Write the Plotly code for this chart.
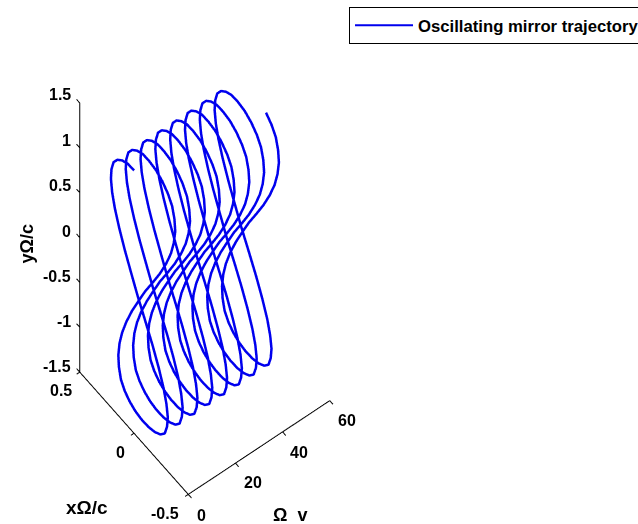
import plotly.graph_objects as go

series_name = "Oscillating mirror trajectory"

omega_t = [
 0,.13,.26,.39,.52,.65,.79,.92,1.05,1.18,1.31,1.44,1.57,1.70,1.83,1.96,2.09,2.23,2.36,2.49,2.62,2.75,2.88,3.01,3.14,3.27,3.40,3.53,3.67,3.80,3.93,4.06,4.19,4.32,4.45,4.58,4.71,4.84,4.97,5.11,5.24,5.37,5.50,5.63,5.76,5.89,6.02,6.15,
 6.28,6.41,6.54,6.68,6.81,6.94,7.07,7.20,7.33,7.46,7.59,7.72,7.85,7.98,8.12,8.25,8.38,8.51,8.64,8.77,8.90,9.03,9.16,9.29,9.42,9.55,9.69,9.82,9.95,10.08,10.21,10.34,10.47,10.60,10.73,10.86,11.00,11.13,11.26,11.39,11.52,11.65,11.78,11.91,12.04,12.17,12.30,12.44,
 12.57,12.70,12.83,12.96,13.09,13.22,13.35,13.48,13.61,13.74,13.87,14.01,14.14,14.27,14.40,14.53,14.66,14.79,14.92,15.05,15.18,15.32,15.45,15.58,15.71,15.84,15.97,16.10,16.23,16.36,16.49,16.62,16.76,16.89,17.02,17.15,17.28,17.41,17.54,17.67,17.80,17.93,18.06,18.20,18.33,18.46,18.59,18.72,
 18.85,18.98,19.11,19.24,19.37,19.50,19.63,19.77,19.90,20.03,20.16,20.29,20.42,20.55,20.68,20.81,20.94,21.08,21.21,21.34,21.47,21.60,21.73,21.86,21.99,22.12,22.25,22.38,22.51,22.65,22.78,22.91,23.04,23.17,23.30,23.43,23.56,23.69,23.82,23.96,24.09,24.22,24.35,24.48,24.61,24.74,24.87,25.00,
 25.13,25.26,25.39,25.53,25.66,25.79,25.92,26.05,26.18,26.31,26.44,26.57,26.70,26.84,26.97,27.10,27.23,27.36,27.49,27.62,27.75,27.88,28.01,28.14,28.27,28.41,28.54,28.67,28.80,28.93,29.06,29.19,29.32,29.45,29.58,29.72,29.85,29.98,30.11,30.24,30.37,30.50,30.63,30.76,30.89,31.02,31.15,31.29,
 31.42,31.55,31.68,31.81,31.94,32.07,32.20,32.33,32.46,32.60,32.72,32.86,32.99,33.12,33.25,33.38,33.51,33.64,33.77,33.90,34.03,34.17,34.30,34.43,34.56,34.69,34.82,34.95,35.08,35.21,35.34,35.48,35.60,35.74,35.87,36.00,36.13,36.26,36.39,36.52,36.65,36.78,36.91,37.05,37.18,37.31,37.44,37.57,
 37.70,37.83,37.96,38.09,38.22,38.35,38.48,38.62,38.75,38.88,39.01,39.14,39.27,39.40,39.53,39.66,39.79,39.93,40.06,40.19,40.32,40.45,40.58,40.71,40.84,40.97,41.10,41.23,41.36,41.50,41.63,41.76,41.89,42.02,42.15,42.28,42.41,42.54,42.67,42.81,42.94,43.07,43.20,43.33,43.46,43.59,43.72,43.85,
 43.98,44.11,44.24,44.37,44.51,44.64,44.77,44.90,45.03,45.16,45.29,45.42,45.55,45.68,45.81,45.94,46.08,46.21,46.34,46.47,46.60,46.73,46.86,46.99,47.12,47.25,47.39,47.52,47.65,47.78,47.91,48.04,48.17,48.30,48.43,48.56,48.69,48.83,48.96,49.09,49.22,49.35,49.48,49.61,49.74,49.87,50.00,
]

x_omega_c = [
 0,.06,.115,.163,.2,.222,.23,.222,.2,.163,.115,.06,0,-.068,-.13,-.184,-.226,-.25,-.26,-.25,-.226,-.184,-.13,-.068,0,.06,.115,.163,.2,.222,.23,.222,.2,.163,.115,.06,0,-.068,-.13,-.184,-.226,-.25,-.26,-.25,-.226,-.184,-.13,-.068,
 0,.06,.115,.163,.2,.222,.23,.222,.2,.163,.115,.06,0,-.068,-.13,-.184,-.226,-.25,-.26,-.25,-.226,-.184,-.13,-.068,0,.06,.115,.163,.2,.222,.23,.222,.2,.163,.115,.06,0,-.068,-.13,-.184,-.226,-.25,-.26,-.25,-.226,-.184,-.13,-.068,
 0,.06,.115,.163,.2,.222,.23,.222,.2,.163,.115,.06,0,-.068,-.13,-.184,-.226,-.25,-.26,-.25,-.226,-.184,-.13,-.068,0,.06,.115,.163,.2,.222,.23,.222,.2,.163,.115,.06,0,-.068,-.13,-.184,-.226,-.25,-.26,-.25,-.226,-.184,-.13,-.068,
 0,.06,.115,.163,.2,.222,.23,.222,.2,.163,.115,.06,0,-.068,-.13,-.184,-.226,-.25,-.26,-.25,-.226,-.184,-.13,-.068,0,.06,.115,.163,.2,.222,.23,.222,.2,.163,.115,.06,0,-.068,-.13,-.184,-.226,-.25,-.26,-.25,-.226,-.184,-.13,-.068,
 0,.06,.115,.163,.2,.222,.23,.222,.2,.163,.115,.06,0,-.068,-.13,-.184,-.226,-.25,-.26,-.25,-.226,-.184,-.13,-.068,0,.06,.115,.163,.2,.222,.23,.222,.2,.163,.115,.06,0,-.068,-.13,-.184,-.226,-.25,-.26,-.25,-.226,-.184,-.13,-.068,
 0,.06,.115,.163,.2,.222,.23,.222,.2,.163,.115,.06,0,-.068,-.13,-.184,-.226,-.25,-.26,-.25,-.226,-.184,-.13,-.068,0,.06,.115,.163,.2,.222,.23,.222,.2,.163,.115,.06,0,-.068,-.13,-.184,-.226,-.25,-.26,-.25,-.226,-.184,-.13,-.068,
 0,.06,.115,.163,.2,.222,.23,.222,.2,.163,.115,.06,0,-.068,-.13,-.184,-.226,-.25,-.26,-.25,-.226,-.184,-.13,-.068,0,.06,.115,.163,.2,.222,.23,.222,.2,.163,.115,.06,0,-.068,-.13,-.184,-.226,-.25,-.26,-.25,-.226,-.184,-.13,-.068,
 0,.06,.115,.163,.2,.222,.23,.222,.2,.163,.115,.06,0,-.068,-.13,-.184,-.226,-.25,-.26,-.25,-.226,-.184,-.13,-.068,0,.06,.115,.163,.2,.222,.23,.222,.2,.163,.115,.06,0,-.068,-.13,-.184,-.226,-.25,-.26,-.25,-.226,-.184,-.13,
]

y_omega_c = [
 1.43,1.42,1.38,1.32,1.24,1.13,1.01,.87,.72,.55,.37,.19,0,-.19,-.37,-.55,-.72,-.87,-1.01,-1.13,-1.24,-1.31,-1.36,-1.39,-1.40,-1.39,-1.36,-1.31,-1.24,-1.13,-1.01,-.87,-.72,-.55,-.37,-.19,0,.19,.37,.55,.72,.87,1.01,1.13,1.24,1.32,1.38,1.42,
 1.43,1.42,1.38,1.32,1.24,1.13,1.01,.87,.72,.55,.37,.19,0,-.19,-.37,-.55,-.72,-.87,-1.01,-1.13,-1.24,-1.31,-1.36,-1.39,-1.40,-1.39,-1.36,-1.31,-1.24,-1.13,-1.01,-.87,-.72,-.55,-.37,-.19,0,.19,.37,.55,.72,.87,1.01,1.13,1.24,1.32,1.38,1.42,
 1.43,1.42,1.38,1.32,1.24,1.13,1.01,.87,.72,.55,.37,.19,0,-.19,-.37,-.55,-.72,-.87,-1.01,-1.13,-1.24,-1.31,-1.36,-1.39,-1.40,-1.39,-1.36,-1.31,-1.24,-1.13,-1.01,-.87,-.72,-.55,-.37,-.19,0,.19,.37,.55,.72,.87,1.01,1.13,1.24,1.32,1.38,1.42,
 1.43,1.42,1.38,1.32,1.24,1.13,1.01,.87,.72,.55,.37,.19,0,-.19,-.37,-.55,-.72,-.87,-1.01,-1.13,-1.24,-1.31,-1.36,-1.39,-1.40,-1.39,-1.36,-1.31,-1.24,-1.13,-1.01,-.87,-.72,-.55,-.37,-.19,0,.19,.37,.55,.72,.87,1.01,1.13,1.24,1.32,1.38,1.42,
 1.43,1.42,1.38,1.32,1.24,1.13,1.01,.87,.72,.55,.37,.19,0,-.19,-.37,-.55,-.72,-.87,-1.01,-1.13,-1.24,-1.31,-1.36,-1.39,-1.40,-1.39,-1.36,-1.31,-1.24,-1.13,-1.01,-.87,-.72,-.55,-.37,-.19,0,.19,.37,.55,.72,.87,1.01,1.13,1.24,1.32,1.38,1.42,
 1.43,1.42,1.38,1.32,1.24,1.13,1.01,.87,.72,.55,.37,.19,0,-.19,-.37,-.55,-.72,-.87,-1.01,-1.13,-1.24,-1.31,-1.36,-1.39,-1.40,-1.39,-1.36,-1.31,-1.24,-1.13,-1.01,-.87,-.72,-.55,-.37,-.19,0,.19,.37,.55,.72,.87,1.01,1.13,1.24,1.32,1.38,1.42,
 1.43,1.42,1.38,1.32,1.24,1.13,1.01,.87,.72,.55,.37,.19,0,-.19,-.37,-.55,-.72,-.87,-1.01,-1.13,-1.24,-1.31,-1.36,-1.39,-1.40,-1.39,-1.36,-1.31,-1.24,-1.13,-1.01,-.87,-.72,-.55,-.37,-.19,0,.19,.37,.55,.72,.87,1.01,1.13,1.24,1.32,1.38,1.42,
 1.43,1.42,1.38,1.32,1.24,1.13,1.01,.87,.72,.55,.37,.19,0,-.19,-.37,-.55,-.72,-.87,-1.01,-1.13,-1.24,-1.31,-1.36,-1.39,-1.40,-1.39,-1.36,-1.31,-1.24,-1.13,-1.01,-.87,-.72,-.55,-.37,-.19,0,.19,.37,.55,.72,.87,1.01,1.13,1.24,1.32,1.38,
]

t_ticks = [0, 20, 40, 60]
x_ticks = [-0.5, 0, 0.5]
x_labels = ["-0.5", "0", "0.5"]
y_ticks = [-1.5, -1, -0.5, 0, 0.5, 1, 1.5]
y_labels = ["-1.5", "-1", "-0.5", "0", "0.5", "1", "1.5"]

FONT = "Liberation Sans"


def axis(rng):
    return dict(
        range=rng, showticklabels=False, ticks="", title=dict(text=""),
        showgrid=False, zeroline=False, showbackground=False, showspikes=False,
        showline=False,
    )


def label(t, x, y, text, dx, dy, anchor="center", angle=0, size=16):
    return dict(x=t, y=x, z=y, text=text, showarrow=False, xanchor=anchor, yanchor="middle",
                xshift=dx, yshift=dy, textangle=angle,
                font=dict(family=FONT, size=size, color="black", weight="bold"))


notes = []
for v, lab, dy in zip(y_ticks, y_labels, [5.5, 6, 6, 6, 7, 7, 8.5]):
    notes.append(label(0, 0.5, v, lab, -7, dy, "right"))
for v, lab, dx, dy in zip(x_ticks, x_labels, [-23, -13.5, -19], [-19, -18.5, -18]):
    notes.append(label(0, v, -1.5, lab, dx, dy))
for v, dx, dy in zip(t_ticks, [13, 17.6, 17, 18], [-21, -19.4, -20, -20]):
    notes.append(label(v, -0.5, -1.5, str(v), dx, dy))
notes.append(label(0, 0.5, 0, "yΩ/c", -53, -6, angle=-90, size=18))
notes.append(label(0, -0.5, -1.5, "xΩ/c", -101, -13, size=19))
notes.append(label(40, -0.5, -1.5, "Ω  v", 8, -83, size=18))

# Axis lines and tick marks, built from the tick lists so that they follow the scene's axes.
x0, x1, y0 = x_ticks[0], x_ticks[-1], y_ticks[0]
segments = [
    ([t_ticks[0], t_ticks[-1]], [x0, x0], [y0, y0]),
    ([0, 0], [x0, x1], [y0, y0]),
    ([0, 0], [x1, x1], [y0, y_ticks[-1]]),
]
segments += [([v, v], [x0, x0 - 0.03], [y0, y0]) for v in t_ticks]
segments += [([0, -1.3], [v, v], [y0, y0]) for v in x_ticks]
segments += [([0, 0], [x1, x1 + 0.03], [v, v]) for v in y_ticks]

fig = go.Figure()
for sx, sy, sz in segments:
    fig.add_trace(go.Scatter3d(
        x=sx, y=sy, z=sz, mode="lines", line=dict(color="black", width=2),
        showlegend=False, hoverinfo="skip",
    ))
fig.add_trace(go.Scatter3d(
    x=omega_t, y=x_omega_c, z=y_omega_c, mode="lines", name=series_name,
    line=dict(color="#0000ee", width=5), showlegend=False,
))
fig.add_trace(go.Scatter3d(
    x=[None], y=[None], z=[None], mode="lines", name=series_name,
    line=dict(color="#0000ee", width=2), showlegend=True, hoverinfo="skip",
))

fig.update_layout(
    width=638, height=524,
    margin=dict(l=0, r=0, t=0, b=0, autoexpand=False),
    paper_bgcolor="white",
    font=dict(family=FONT, size=14, color="black", weight="bold"),
    legend=dict(x=1.011, xanchor="right", y=0.987, yanchor="top", bordercolor="black",
                borderwidth=1, bgcolor="white", itemwidth=58,
                font=dict(family=FONT, size=16.7, color="black", weight="bold")),
    scene=dict(
        domain=dict(x=[0, 0.6357], y=[0.0336, 1]),
        aspectmode="manual", aspectratio=dict(x=0.7223, y=0.747, z=2.114),
        xaxis=axis([-1.5, 60]),
        yaxis=axis([-0.53, 0.53]),
        zaxis=axis([-1.5, 1.5]),
        camera=dict(
            projection=dict(type="orthographic"),
            up=dict(x=0, y=0, z=1),
            center=dict(x=0, y=0, z=0),
            eye=dict(x=-1.297, y=-1.691, z=3.66),
        ),
        annotations=notes,
    ),
)

fig.write_html("out.html", config=dict(displayModeBar=False),
               post_script="document.body.style.margin='0';document.documentElement.style.overflow='hidden';")
